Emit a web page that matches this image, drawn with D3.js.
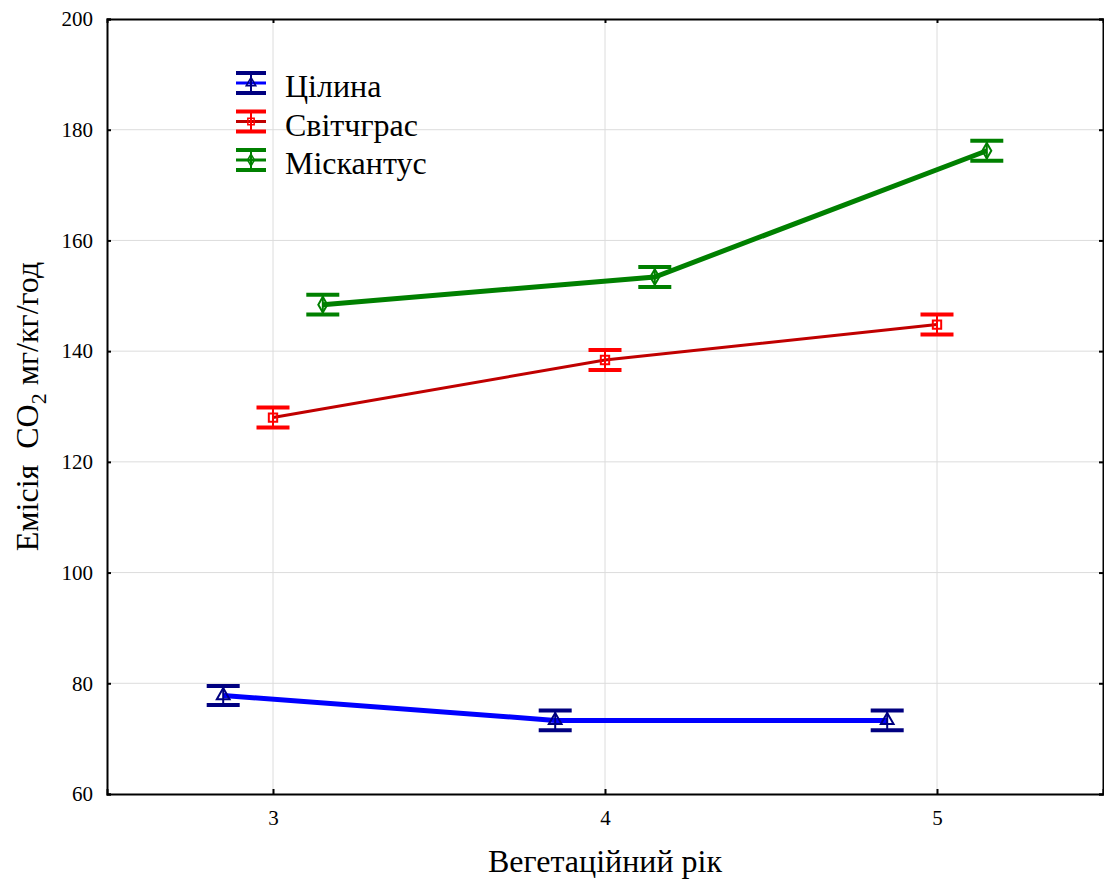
<!DOCTYPE html>
<html>
<head>
<meta charset="utf-8">
<script src="https://cdn.jsdelivr.net/npm/d3@7"></script>
<style>
  body { margin: 0; background: #fff; }
  svg text { white-space: pre; }
</style>
</head>
<body>
<svg></svg>
<script>
const years = [3, 4, 5];
const seriesNames = ['Цілина', 'Світчграс', 'Міскантус'];
const tsilynaMean = [77.8, 73.3, 73.3];
const tsilynaErr = [1.7, 1.8, 1.8];
const svitchgrasMean = [128.0, 138.4, 144.8];
const svitchgrasErr = [1.8, 1.8, 1.8];
const miskantusMean = [148.4, 153.4, 176.2];
const miskantusErr = [1.8, 1.8, 1.8];
const yTicks = [60, 80, 100, 120, 140, 160, 180, 200];

const width = 1104;
const height = 879;
const margin = { left: 107, top: 19, right: 1, bottom: 85 };
const serif = 'Liberation Serif';

const svg = d3.select('svg')
  .attr('width', width)
  .attr('height', height);

const x = d3.scaleLinear().domain([2.5, 5.5]).range([margin.left, width - margin.right]);
const y = d3.scaleLinear().domain([60, 200]).range([height - margin.bottom, margin.top]);

const series = [
  { name: seriesNames[0], mean: tsilynaMean, err: tsilynaErr, dx: -0.15,
    line: '#0000ff', bar: '#000080', lw: 5, shape: d3.symbolTriangle },
  { name: seriesNames[1], mean: svitchgrasMean, err: svitchgrasErr, dx: 0,
    line: '#c00000', bar: '#ff0000', lw: 3, shape: d3.symbolSquare },
  { name: seriesNames[2], mean: miskantusMean, err: miskantusErr, dx: 0.15,
    line: '#008000', bar: '#008000', lw: 5, shape: d3.symbolDiamond },
];

// grid
svg.append('g')
  .selectAll('line')
  .data(yTicks.slice(1, -1))
  .enter().append('line')
  .attr('x1', x(2.5)).attr('x2', x(5.5))
  .attr('y1', d => y(d)).attr('y2', d => y(d))
  .attr('stroke', '#dcdcdc').attr('stroke-width', 1);

svg.append('g')
  .selectAll('line')
  .data(years)
  .enter().append('line')
  .attr('x1', d => x(d)).attr('x2', d => x(d))
  .attr('y1', y(60)).attr('y2', y(200))
  .attr('stroke', '#dcdcdc').attr('stroke-width', 1);

// axes
const axisL = svg.append('g')
  .attr('transform', `translate(${x(2.5)},0)`)
  .call(d3.axisLeft(y).tickValues(yTicks).tickSize(-4).tickPadding(14));
const axisB = svg.append('g')
  .attr('transform', `translate(0,${y(60)})`)
  .call(d3.axisBottom(x).tickValues(years).tickSize(-5).tickPadding(16).tickFormat(d3.format('d')));
const axisR = svg.append('g')
  .attr('transform', `translate(${x(5.5)},0)`)
  .call(d3.axisRight(y).tickValues(yTicks).tickSize(-4).tickFormat(''));
const axisT = svg.append('g')
  .attr('transform', `translate(0,${y(200)})`)
  .call(d3.axisTop(x).tickValues(years).tickSize(-4).tickFormat(''));

[axisL, axisB, axisR, axisT].forEach(a => {
  a.select('.domain').attr('stroke', '#000').attr('stroke-width', 2);
  a.selectAll('.tick line').attr('stroke', '#000').attr('stroke-width', 2);
  a.selectAll('text')
    .attr('font-family', serif)
    .attr('font-size', 21)
    .attr('fill', '#000');
});

// series
const capW = 33;
series.forEach(s => {
  const pts = years.map((yr, i) => ({ x: yr + s.dx, m: s.mean[i], e: s.err[i] }));
  const g = svg.append('g');

  g.append('path')
    .datum(pts)
    .attr('fill', 'none')
    .attr('stroke', s.line)
    .attr('stroke-width', s.lw)
    .attr('d', d3.line().x(d => x(d.x)).y(d => y(d.m)));

  const eb = g.selectAll('.eb').data(pts).enter().append('g');
  eb.append('line')
    .attr('x1', d => x(d.x)).attr('x2', d => x(d.x))
    .attr('y1', d => y(d.m + d.e)).attr('y2', d => y(d.m - d.e))
    .attr('stroke', s.bar).attr('stroke-width', 2);
  eb.append('line')
    .attr('x1', d => x(d.x) - capW / 2).attr('x2', d => x(d.x) + capW / 2)
    .attr('y1', d => y(d.m + d.e)).attr('y2', d => y(d.m + d.e))
    .attr('stroke', s.bar).attr('stroke-width', 4);
  eb.append('line')
    .attr('x1', d => x(d.x) - capW / 2).attr('x2', d => x(d.x) + capW / 2)
    .attr('y1', d => y(d.m - d.e)).attr('y2', d => y(d.m - d.e))
    .attr('stroke', s.bar).attr('stroke-width', 4);
  eb.append('path')
    .attr('transform', d => `translate(${x(d.x)},${y(d.m)})`)
    .attr('d', d3.symbol().type(s.shape).size(70))
    .attr('fill', 'none')
    .attr('stroke', s.bar)
    .attr('stroke-width', 2);
});

// legend
const legend = svg.append('g').attr('transform', 'translate(251,83)');
series.forEach((s, i) => {
  const g = legend.append('g').attr('transform', `translate(0,${i * 38.5})`);
  g.append('line').attr('x1', -15).attr('x2', 15).attr('y1', -10).attr('y2', -10)
    .attr('stroke', s.bar).attr('stroke-width', 4);
  g.append('line').attr('x1', -15).attr('x2', 15).attr('y1', 10).attr('y2', 10)
    .attr('stroke', s.bar).attr('stroke-width', 4);
  g.append('line').attr('x1', -15).attr('x2', 15).attr('y1', 0).attr('y2', 0)
    .attr('stroke', s.line).attr('stroke-width', 3);
  g.append('line').attr('x1', 0).attr('x2', 0).attr('y1', -10).attr('y2', 10)
    .attr('stroke', s.bar).attr('stroke-width', 2);
  g.append('path')
    .attr('d', d3.symbol().type(s.shape).size(40))
    .attr('fill', 'none').attr('stroke', s.bar).attr('stroke-width', 1.5);
  g.append('text')
    .attr('x', 34).attr('y', 14)
    .attr('font-family', serif)
    .attr('font-size', 32)
    .text(s.name);
});

// axis titles
svg.append('text')
  .attr('x', (x(2.5) + x(5.5)) / 2)
  .attr('y', 872)
  .attr('text-anchor', 'middle')
  .attr('font-family', serif)
  .attr('font-size', 32)
  .text('Вегетаційний рік');

const yTitle = svg.append('text')
  .attr('transform', `translate(38,${(y(60) + y(200)) / 2}) rotate(-90)`)
  .attr('text-anchor', 'middle')
  .attr('font-family', serif)
  .attr('font-size', 32);
yTitle.append('tspan').text('Емісія  CO');
yTitle.append('tspan').attr('font-size', 22).attr('dy', 8).text('2');
yTitle.append('tspan').attr('dy', -8).text(' мг/кг/год');
</script>
</body>
</html>
